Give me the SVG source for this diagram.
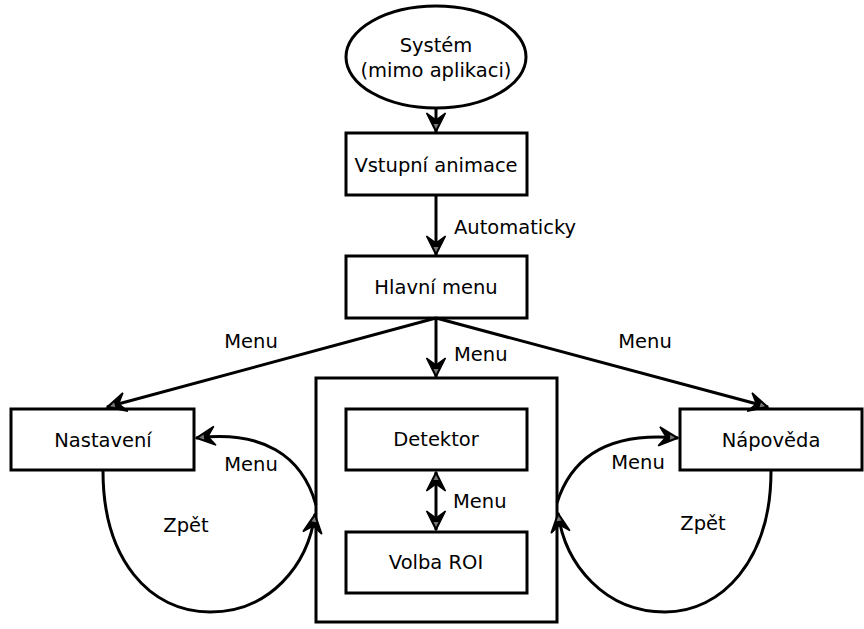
<svg xmlns="http://www.w3.org/2000/svg" width="864" height="629" viewBox="0 0 864 629">
<style>
.n{fill:#fff;stroke:#000;stroke-width:3}
.c{fill:none;stroke:#000;stroke-width:3}
text{font-family:"DejaVu Sans",sans-serif;font-size:19.5px;fill:#000}
.m{text-anchor:middle}
</style>
<defs>
<marker id="ah" markerUnits="userSpaceOnUse" markerWidth="24" markerHeight="24" viewBox="-22 -11 24 22" refX="0" refY="0" orient="auto-start-reverse">
<path d="M0,0 L-19,-9.5 L-12,0 L-19,9.5 Z" fill="#000" stroke="#000" stroke-width="1.5" stroke-linejoin="miter"/>
<path d="M-3,0 L-8,-2.5 L-8,2.5 Z" fill="#777"/>
</marker>
</defs>
<rect width="864" height="629" fill="#fff"/>
<g id="system">
<ellipse class="n" cx="436" cy="57" rx="90" ry="51"/>
<text class="m" x="436" y="52">Systém</text>
<text class="m" x="436" y="77">(mimo aplikaci)</text>
</g>
<g id="vstupni">
<rect class="n" x="346" y="133" width="181" height="62"/>
<text class="m" x="436" y="172">Vstupní animace</text>
</g>
<g id="hlavni">
<rect class="n" x="346" y="256" width="181" height="62"/>
<text class="m" x="436" y="294">Hlavní menu</text>
</g>
<g id="container">
<rect class="n" x="316" y="378" width="241" height="244"/>
</g>
<g id="detektor">
<rect class="n" x="346" y="409" width="181" height="61"/>
<text class="m" x="436" y="446">Detektor</text>
</g>
<g id="volba">
<rect class="n" x="346" y="532" width="181" height="61"/>
<text class="m" x="436" y="569">Volba ROI</text>
</g>
<g id="nastaveni">
<rect class="n" x="11" y="409" width="183" height="61"/>
<text class="m" x="103" y="447">Nastavení</text>
</g>
<g id="napoveda">
<rect class="n" x="680" y="409" width="182" height="61"/>
<text class="m" x="771" y="447">Nápověda</text>
</g>
<g id="connectors">
<path class="c" d="M436,108 L436,132" marker-end="url(#ah)"/>
<path class="c" d="M436,195 L436,255" marker-end="url(#ah)"/>
<path class="c" d="M436,318 L436,377" marker-end="url(#ah)"/>
<path class="c" d="M436,318 L107,407" marker-end="url(#ah)"/>
<path class="c" d="M436,318 L768,407" marker-end="url(#ah)"/>
<path class="c" d="M436,472 L436,530" marker-start="url(#ah)" marker-end="url(#ah)"/>
<path class="c" d="M316,505 C302,455 262,430 196,438" marker-end="url(#ah)"/>
<path class="c" d="M103,471 C103,560 150,612 210,612 C270,612 308,565 315,514" marker-end="url(#ah)"/>
<path class="c" d="M557,503 C572,455 612,432 678,438" marker-end="url(#ah)"/>
<path class="c" d="M771,471 C771,560 722,612 665,612 C605,612 565,565 558,513" marker-end="url(#ah)"/>
<text x="454" y="234">Automaticky</text>
<text x="454" y="361">Menu</text>
<text class="m" x="251" y="348">Menu</text>
<text class="m" x="645" y="348">Menu</text>
<text x="453" y="508">Menu</text>
<text class="m" x="251" y="471">Menu</text>
<text class="m" x="186" y="532">Zpět</text>
<text class="m" x="638" y="469">Menu</text>
<text class="m" x="703" y="530">Zpět</text>
</g>
</svg>
